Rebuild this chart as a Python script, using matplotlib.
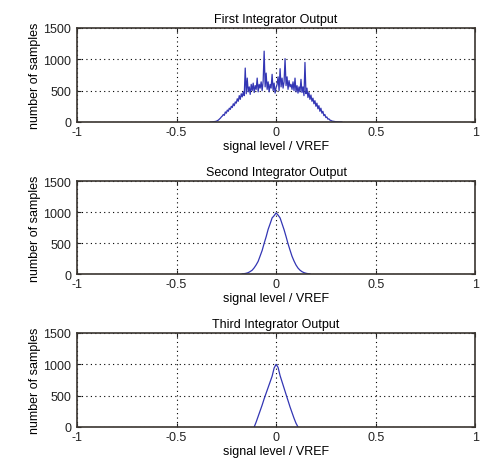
import matplotlib.pyplot as plt
import numpy as np

plt.rcParams['font.family'] = ['Liberation Sans', 'DejaVu Sans']

titles = ['First Integrator Output', 'Second Integrator Output', 'Third Integrator Output']
xlab = 'signal level / VREF'
ylab = 'number of samples'

# first integrator: bins -0.33 .. 0.33, step 0.005
counts1 = [0, 0, 2, 3, 5, 8, 12, 20, 30, 45,
           60, 80, 95, 120, 105, 160, 140, 190, 170, 220,
           200, 250, 230, 290, 260, 320, 300, 370, 330, 420,
           360, 450, 400, 480, 420, 860, 450, 700, 480, 560,
           440, 600, 500, 620, 470, 580, 520, 700, 480, 600,
           540, 640, 500, 650, 1130, 560, 780, 520, 640, 480,
           600, 540, 760, 500, 620, 460,
           550,
           600, 720, 500, 850, 560, 700, 540, 640, 1010, 580,
           720, 520, 660, 560, 600, 520, 640, 500, 700, 480,
           580, 460, 560, 480, 680, 470, 560, 420, 950, 450,
           540, 390, 470, 360, 430, 330, 380, 290, 340, 250,
           300, 210, 260, 170, 220, 140, 170, 100, 120, 70,
           80, 45, 50, 30, 25, 15, 12, 8, 6, 4,
           3, 2, 1, 1, 0, 0]
x1 = np.linspace(-0.33, 0.33, len(counts1))

# second integrator: bins -0.17 .. 0.17, step 0.01
counts2 = [2, 6, 12, 22, 40, 62, 100, 148, 205, 292, 380, 495, 600, 720, 810, 905, 940,
           985,
           950, 905, 810, 715, 605, 488, 385, 286, 210, 145, 96, 62, 38, 22, 12, 6, 2]
x2 = np.linspace(-0.17, 0.17, len(counts2))

# third integrator: bins -0.11 .. 0.11, step 0.01
counts3 = [0, 80, 170, 260, 350, 450, 540, 630, 720, 810, 940,
           1000,
           950, 820, 720, 620, 520, 420, 320, 230, 140, 60, 0]
x3 = np.linspace(-0.11, 0.11, len(counts3))

data = [(x1, counts1), (x2, counts2), (x3, counts3)]
boxes = [[0.160, 0.735, 0.828, 0.2026],
         [0.160, 0.4073, 0.828, 0.2004],
         [0.160, 0.0776, 0.828, 0.2026]]

fig = plt.figure(figsize=(4.81, 4.64), dpi=100)
for box, (x, y), title in zip(boxes, data, titles):
    ax = fig.add_axes(box)
    ax.plot(x, y, color='#3336b4', linewidth=0.9)
    ax.set_xlim(-1, 1)
    ax.set_ylim(0, 1500)
    ax.set_xticks([-1, -0.5, 0, 0.5, 1])
    ax.set_xticklabels(['-1', '-0.5', '0', '0.5', '1'])
    ax.set_yticks([0, 500, 1000, 1500])
    ax.grid(True, color='black', linestyle=(0, (1, 3)), linewidth=0.8)
    ax.tick_params(direction='in', top=True, right=True, labelsize=9,
                   length=3, colors='#222222')
    ax.tick_params(axis='x', pad=3)
    ax.tick_params(axis='y', pad=4)
    for s in ax.spines.values():
        s.set_color('#3a3530')
        s.set_linewidth(1.2)
    ax.set_title(title, fontsize=9, pad=4)
    ax.set_xlabel(xlab, fontsize=9, labelpad=1)
    ax.set_ylabel(ylab, fontsize=9, labelpad=2)

plt.savefig('out.png', dpi=100)
